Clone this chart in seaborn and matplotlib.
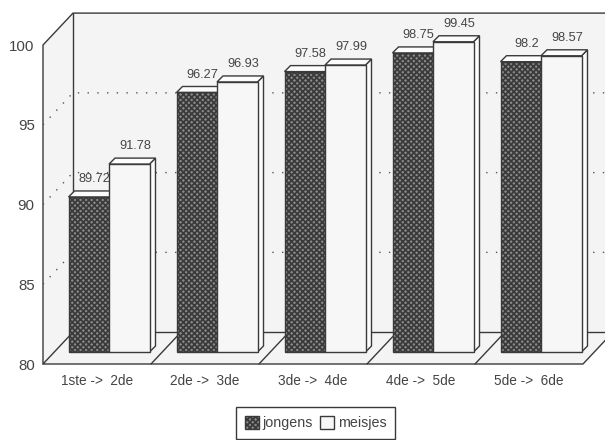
import matplotlib
matplotlib.use("Agg")
import matplotlib.pyplot as plt
from matplotlib.patches import Patch, Polygon
import pandas as pd
import seaborn as sns

categories = ["1ste ->  2de", "2de ->  3de", "3de ->  4de", "4de ->  5de", "5de ->  6de"]
jongens = [89.72, 96.27, 97.58, 98.75, 98.2]
meisjes = [91.78, 96.93, 97.99, 99.45, 98.57]
series_names = ["jongens", "meisjes"]
y_ticks = [80, 85, 90, 95, 100]

df = pd.DataFrame({
    "overgang": categories * 2,
    "pct": jongens + meisjes,
    "geslacht": [series_names[0]] * 5 + [series_names[1]] * 5,
})

W, H = 605, 440
INK = "#3a3a3a"
WALL = "#f4f4f4"
LIGHT = "#f7f7f7"
TOPFACE = "#fcfcfc"
DARK = "#8a8a8a"
TEXT = "#444444"

sns.set_theme(style="white")
plt.rcParams["font.family"] = ["Liberation Sans", "DejaVu Sans"]
plt.rcParams["hatch.linewidth"] = 1.25

fig = plt.figure(figsize=(W / 100, H / 100), dpi=100, facecolor="white")


def axes_px(left, right, bottom, top):
    return [left / W, 1 - bottom / H, (right - left) / W, (bottom - top) / H]


# Front plane of the 3D box: carries the axis labels and the walls
frame = fig.add_axes(axes_px(43, 583, 364, 45), zorder=1)
frame.set_xlim(-0.5, 4.5)
frame.set_ylim(80, 100)
frame.patch.set_visible(False)
for s in frame.spines.values():
    s.set_visible(False)
frame.set_xticks(range(5))
frame.set_xticklabels(categories, fontsize=9.8, color=TEXT)
frame.set_yticks(y_ticks)
frame.set_yticklabels([str(v) for v in y_ticks], fontsize=10.8, color=TEXT)
frame.tick_params(axis="x", length=0, pad=7)
frame.tick_params(axis="y", length=0, pad=6)

DX, DY = 30 / 108, 2.0   # box depth in data units
L, R = -0.5, 4.5
XR = R + DX
YB, YT = 80, 100
frame.add_patch(Polygon([(L + DX, YB + DY), (XR, YB + DY), (XR, YT + DY), (L + DX, YT + DY)],
                        fc=WALL, ec="none", clip_on=False, zorder=0))
frame.add_patch(Polygon([(L, YB), (L + DX, YB + DY), (L + DX, YT + DY), (L, YT)],
                        fc=WALL, ec="none", clip_on=False, zorder=0))
frame.add_patch(Polygon([(L, YB), (R, YB), (XR, YB + DY), (L + DX, YB + DY)],
                        fc=WALL, ec="none", clip_on=False, zorder=0))
line_kw = dict(color=INK, lw=1.0, clip_on=False, zorder=1, solid_capstyle="round")
frame.plot([L, L, L + DX, XR], [YB, YT, YT + DY, YT + DY], **line_kw)
frame.plot([L + DX, L + DX, XR], [YT + DY, YB + DY, YB + DY], **line_kw)
frame.plot([L + DX, L, R, XR], [YB + DY, YB, YB, YB + DY], **line_kw)
for i in range(1, 5):
    frame.plot([L + i, L + i + DX], [YB, YB + DY], **line_kw)
for v in y_ticks[1:-1]:
    frame.plot([L, L + DX, XR], [v, v + DY, v + DY], color="#555555", lw=1.0,
               ls=(0, (1, 6)), clip_on=False, zorder=1)

# Bars sit a little inside the box
ax = fig.add_axes(axes_px(55, 595, 352, 33), zorder=2)
ax.patch.set_visible(False)
sns.barplot(data=df, x="overgang", y="pct", hue="geslacht", hue_order=series_names,
            order=categories, palette=[DARK, LIGHT], width=0.75, gap=0, dodge=True,
            errorbar=None, legend=False, ax=ax, edgecolor=INK, linewidth=1.0)
ax.set_xlim(-0.5, 4.5)
ax.set_ylim(80, 100)
ax.set_axis_off()

dx, dy = 6 / 108, 6 / 15.95   # bar depth in data units
for k, container in enumerate(ax.containers):
    z = 2 + k
    for bar in container:
        v = bar.get_height()
        bar.set_y(80)
        bar.set_height(v - 80)
        bar.set_zorder(z + 0.2)
        bar.set_clip_on(False)
        if k == 0:
            bar.set_hatch("xxxxxx")
        x0, x1 = bar.get_x(), bar.get_x() + bar.get_width()
        ax.add_patch(Polygon([(x1, 80), (x1 + dx, 80 + dy), (x1 + dx, v + dy), (x1, v)],
                             fc=TOPFACE, ec=INK, lw=1.0, clip_on=False, zorder=z))
        ax.add_patch(Polygon([(x0, v), (x1, v), (x1 + dx, v + dy), (x0 + dx, v + dy)],
                             fc=TOPFACE, ec=INK, lw=1.0, clip_on=False, zorder=z))
        ax.annotate(str(v), xy=((x0 + x1) / 2 + dx, v + dy), xytext=(0, 8.5),
                    textcoords="offset points", ha="center", va="center",
                    fontsize=9.2, color=TEXT, zorder=2.5, annotation_clip=False)

handles = [
    Patch(facecolor=DARK, edgecolor=INK, hatch="xxxxxx", lw=1.0, label=series_names[0]),
    Patch(facecolor=LIGHT, edgecolor=INK, lw=1.0, label=series_names[1]),
]
leg = fig.legend(handles=handles, ncols=2, loc="center", bbox_to_anchor=(315.5 / W, 1 - 423 / H),
                 fontsize=10.3, frameon=True, fancybox=False, edgecolor=INK, framealpha=1,
                 handlelength=1.0, handleheight=1.0, handletextpad=0.25, columnspacing=0.5,
                 borderpad=0.6, borderaxespad=0, labelcolor=TEXT)
leg.get_frame().set_linewidth(1.0)

fig.savefig("out.png", dpi=100, facecolor="white")
